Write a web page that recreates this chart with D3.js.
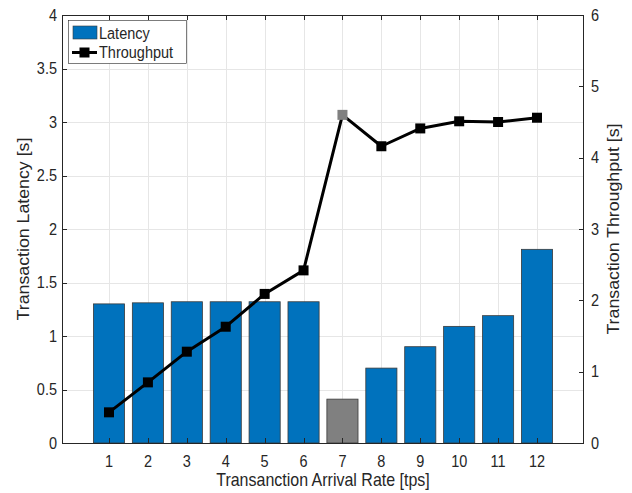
<!DOCTYPE html>
<html>
<head>
<meta charset="utf-8">
<script src="https://cdn.jsdelivr.net/npm/d3@7"></script>
<style>
  body { margin: 0; background: #fff; }
  text { font-family: "Liberation Sans", Arial, Helvetica, sans-serif; fill: #262626; }
</style>
</head>
<body>
<svg id="chart" width="632" height="493"></svg>
<script>
// Arrival rates (tps)
const rates = [1, 2, 3, 4, 5, 6, 7, 8, 9, 10, 11, 12];
// Transaction latency [s]
const latency = [1.30, 1.31, 1.32, 1.32, 1.32, 1.32, 0.41, 0.70, 0.90, 1.09, 1.19, 1.81];
// Transaction throughput
const throughput = [0.43, 0.85, 1.28, 1.63, 2.09, 2.42, 4.60, 4.16, 4.41, 4.51, 4.50, 4.56];
// Saturation point, drawn in gray
const highlight = 7;

const leftTicks = [0, 0.5, 1, 1.5, 2, 2.5, 3, 3.5, 4];
const rightTicks = [0, 1, 2, 3, 4, 5, 6];

const svg = d3.select("#chart");
const L = 62, R = 584, T = 15, B = 443;
const SY = 1.11; // vertical stretch of the figure's text

const x = d3.scaleLinear().domain([-0.208, 13.208]).range([L, R]);
const yL = d3.scaleLinear().domain([0, 4]).range([B, T]);
const yR = d3.scaleLinear().domain([0, 6]).range([B, T]);

const blue = "#0072BD", gray = "#808080";

// horizontal text, stretched vertically
function htext(g, px, py, str, size, anchor) {
  return g.append("text")
    .attr("transform", `translate(${px},${py}) scale(1,${SY})`)
    .attr("text-anchor", anchor).attr("font-size", size).text(str);
}
// vertical text (reads bottom to top), stretched along its length
function vtext(g, px, py, str, size) {
  return g.append("text")
    .attr("transform", `translate(${px},${py}) rotate(-90) scale(${SY},1)`)
    .attr("text-anchor", "middle").attr("font-size", size).text(str);
}

// grid
const grid = svg.append("g").attr("stroke", "#e6e6e6").attr("stroke-width", 1);
rates.forEach(r => grid.append("line")
  .attr("x1", Math.round(x(r)) + 0.5).attr("x2", Math.round(x(r)) + 0.5)
  .attr("y1", T).attr("y2", B));
leftTicks.forEach(t => grid.append("line")
  .attr("x1", L).attr("x2", R)
  .attr("y1", Math.round(yL(t)) + 0.5).attr("y2", Math.round(yL(t)) + 0.5));

// latency bars
const bw = 0.8;
svg.append("g").selectAll("rect").data(rates).join("rect")
  .attr("x", d => x(d - bw / 2))
  .attr("width", x(bw) - x(0))
  .attr("y", (d, i) => yL(latency[i]))
  .attr("height", (d, i) => B - yL(latency[i]))
  .attr("fill", d => d === highlight ? gray : blue)
  .attr("stroke", "#3a3a3a")
  .attr("stroke-width", 0.8);

// throughput line with square markers
const line = d3.line().x((d, i) => x(rates[i])).y(d => yR(d));
svg.append("path").datum(throughput)
  .attr("d", line).attr("fill", "none")
  .attr("stroke", "#000").attr("stroke-width", 3).attr("stroke-linejoin", "round");

const ms = 10;
svg.append("g").selectAll("rect").data(throughput).join("rect")
  .attr("x", (d, i) => x(rates[i]) - ms / 2)
  .attr("y", d => yR(d) - ms / 2)
  .attr("width", ms).attr("height", ms)
  .attr("fill", (d, i) => rates[i] === highlight ? gray : "#000");

// axes box and ticks
const tl = 5;
const ax = svg.append("g").attr("stroke", "#262626").attr("stroke-width", 1).attr("fill", "none");
ax.append("rect").attr("x", L + 0.5).attr("y", T + 0.5).attr("width", R - L - 1).attr("height", B - T);
rates.forEach(r => {
  const px = Math.round(x(r)) + 0.5;
  ax.append("line").attr("x1", px).attr("x2", px).attr("y1", B).attr("y2", B - tl);
  ax.append("line").attr("x1", px).attr("x2", px).attr("y1", T).attr("y2", T + tl);
});
leftTicks.forEach(t => {
  const py = Math.round(yL(t)) + 0.5;
  ax.append("line").attr("x1", L).attr("x2", L + tl).attr("y1", py).attr("y2", py);
});
rightTicks.forEach(t => {
  const py = Math.round(yR(t)) + 0.5;
  ax.append("line").attr("x1", R).attr("x2", R - tl).attr("y1", py).attr("y2", py);
});

// tick labels
const fs = 14.5;
const labels = svg.append("g");
rates.forEach(r => htext(labels, x(r), B + 24, r, fs, "middle"));
leftTicks.forEach(t => htext(labels, L - 5, yL(t) + 5.5, t, fs, "end"));
rightTicks.forEach(t => htext(labels, R + 7, yR(t) + 5.5, t, fs, "start"));

// axis titles
htext(svg, (L + R) / 2, 486, "Transanction Arrival Rate [tps]", 16, "middle");
vtext(svg, 28.5, (T + B) / 2, "Transaction Latency [s]", 16);
vtext(svg, 619, (T + B) / 2, "Transaction Throughput [s]", 16);

// legend
const lg = svg.append("g");
lg.append("rect").attr("x", 68.5).attr("y", 20.5).attr("width", 118).attr("height", 43)
  .attr("fill", "#fff").attr("stroke", "#262626").attr("stroke-width", 0.6);
lg.append("rect").attr("x", 73).attr("y", 26).attr("width", 24).attr("height", 13)
  .attr("fill", blue).attr("stroke", "#3a3a3a").attr("stroke-width", 0.6);
htext(lg, 99, 38.5, "Latency", fs, "start");
lg.append("line").attr("x1", 72).attr("x2", 97).attr("y1", 52.5).attr("y2", 52.5)
  .attr("stroke", "#000").attr("stroke-width", 3);
lg.append("rect").attr("x", 79.5).attr("y", 47.5).attr("width", 10).attr("height", 10).attr("fill", "#000");
htext(lg, 99, 58, "Throughput", fs, "start");
</script>
</body>
</html>
